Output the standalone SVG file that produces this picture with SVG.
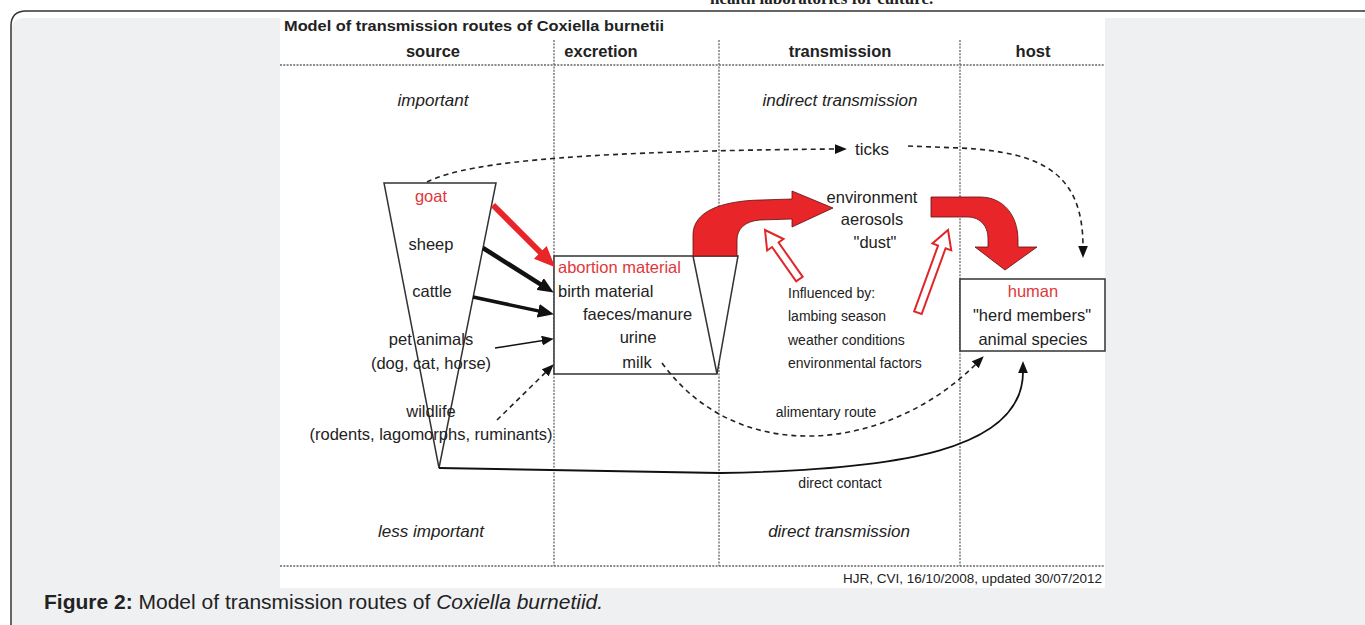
<svg xmlns="http://www.w3.org/2000/svg" width="1365" height="625" viewBox="0 0 1365 625">
<defs>
<style>
text{font-family:"Liberation Sans",Arial,sans-serif;fill:#222}
.t{font-size:16.5px}
.c{text-anchor:middle}
.h{font-size:16.5px;font-weight:bold;text-anchor:middle}
.it{font-size:17px;font-style:italic;text-anchor:middle}
.s{font-size:14px}
.red{fill:#e0383a}
.grid{stroke:#666;stroke-width:1.3;stroke-dasharray:2,1.3;fill:none}
.shape{fill:#fff;stroke:#333;stroke-width:1.5}
.bigred{fill:#e8262a;stroke:#5a1010;stroke-width:0.8}
.hollow{fill:#fff;stroke:#e0262a;stroke-width:2}
.dash{fill:none;stroke:#222;stroke-width:1.6;stroke-dasharray:5,4}
.solid{fill:none;stroke:#111}
</style>
<marker id="mRed" markerUnits="userSpaceOnUse" markerWidth="22" markerHeight="20" refX="1" refY="9" orient="auto" viewBox="0 0 22 18"><path d="M0,0 L21,9 L0,18 z" fill="#e8262a"/></marker>
<marker id="mBig" markerUnits="userSpaceOnUse" markerWidth="16" markerHeight="14" refX="1" refY="6.5" orient="auto" viewBox="0 0 15 13"><path d="M0,0 L15,6.5 L0,13 z" fill="#111"/></marker>
<marker id="mSm" markerUnits="userSpaceOnUse" markerWidth="12" markerHeight="10" refX="1" refY="4.5" orient="auto" viewBox="0 0 11 9"><path d="M0,0 L11,4.5 L0,9 z" fill="#111"/></marker>
</defs>
<rect x="0" y="0" width="1365" height="625" fill="#fff"/>
<path d="M11,625 L11,26 Q11,11 26,11 L1365,11" fill="none" stroke="#333" stroke-width="1.5"/>
<path d="M12,625 L12,28 Q12,18 26,18 L1365,18 L1365,625 Z" fill="#eff0f2"/>
<text x="710" y="4" font-family="Liberation Serif" font-size="17" font-weight="bold" style="font-family:'Liberation Serif',serif">health laboratories for culture.</text>
<rect x="280" y="17" width="825" height="571" fill="#fff"/>

<g id="frame">
<text x="284" y="31" font-size="15" font-weight="bold" textLength="380" lengthAdjust="spacingAndGlyphs">Model of transmission routes of Coxiella burnetii</text>
<text class="h" x="433" y="57">source</text>
<text class="h" x="601" y="57">excretion</text>
<text class="h" x="840" y="57">transmission</text>
<text class="h" x="1033" y="57">host</text>
<line class="grid" x1="280" y1="65" x2="1105" y2="65"/>
<line class="grid" x1="280" y1="566" x2="1105" y2="566"/>
<line class="grid" x1="554" y1="40" x2="554" y2="566"/>
<line class="grid" x1="719" y1="40" x2="719" y2="566"/>
<line class="grid" x1="960" y1="40" x2="960" y2="566"/>
<text class="it" x="433" y="106">important</text>
<text class="it" x="840" y="106">indirect transmission</text>
<text class="it" x="431" y="537">less important</text>
<text class="it" x="839" y="537">direct transmission</text>
<text x="1102" y="583" font-size="13.5" text-anchor="end">HJR, CVI, 16/10/2008, updated 30/07/2012</text>
</g>

<g id="source">
<polygon class="shape" points="384,183 496,183 439,468"/>
<text class="t c red" x="431" y="202">goat</text>
<text class="t c" x="431" y="250">sheep</text>
<text class="t c" x="432" y="297">cattle</text>
<text class="t c" x="431" y="345">pet animals</text>
<text class="t c" x="431" y="369">(dog, cat, horse)</text>
<text class="t c" x="431" y="417">wildlife</text>
<text class="t c" x="431" y="440">(rodents, lagomorphs, ruminants)</text>
</g>

<g id="excretion">
<path class="shape" d="M554,256 L738,256 L717,374 L554,374 Z"/>
<line x1="693" y1="256" x2="717" y2="374" stroke="#333" stroke-width="1.5"/>
<text class="t red" x="558" y="273">abortion material</text>
<text class="t" x="558" y="297">birth material</text>
<text class="t" x="583" y="320">faeces/manure</text>
<text class="t c" x="638" y="343">urine</text>
<text class="t c" x="637" y="368">milk</text>
</g>

<g id="environment">
<text class="t c" x="872" y="203">environment</text>
<text class="t c" x="872" y="225">aerosols</text>
<text class="t c" x="875" y="248">"dust"</text>
</g>

<g id="influences">
<text class="s" x="788" y="298">Influenced by:</text>
<text class="s" x="788" y="321">lambing season</text>
<text class="s" x="788" y="345">weather conditions</text>
<text class="s" x="788" y="368">environmental factors</text>
</g>

<g id="ticks">
<text x="855" y="155" font-size="17">ticks</text>
</g>

<g id="host">
<rect class="shape" x="960" y="279" width="145" height="72"/>
<text class="t c red" x="1033" y="297">human</text>
<text class="t c" x="1032" y="321">"herd members"</text>
<text class="t c" x="1033" y="345">animal species</text>
</g>

<g id="connectors">
<line x1="493" y1="205" x2="541" y2="253" stroke="#e8262a" stroke-width="6" marker-end="url(#mRed)"/>
<line x1="483" y1="248" x2="541" y2="284.6" stroke="#111" stroke-width="4.5" marker-end="url(#mBig)"/>
<line x1="473" y1="297" x2="539.3" y2="311.1" stroke="#111" stroke-width="3.5" marker-end="url(#mBig)"/>
<line x1="495" y1="348" x2="543" y2="340.5" stroke="#111" stroke-width="1.5" marker-end="url(#mSm)"/>
<line class="dash" x1="497" y1="420" x2="546" y2="372" marker-end="url(#mSm)"/>
<path class="dash" d="M427,182 C470,160 600,151 836,149" marker-end="url(#mSm)"/>
<path class="dash" d="M908,146 L960,148 C1045,152 1083,175 1083,247" marker-end="url(#mSm)"/>
<path class="dash" d="M662,363 C740,470 890,450 976,364" marker-end="url(#mSm)"/>
<path class="solid" stroke-width="1.8" d="M439,468 L720,473 C900,470 1023,450 1023,372" marker-end="url(#mSm)"/>
<path class="bigred" d="M693,256 L693,235 C693,212 720,201 760,200 L792,199 L792,191 L833,208 L792,227 L792,219 L760,220 C745,221 737,229 737,240 L737,256 Z"/>
<path class="bigred" d="M931,197 L980,197 C1003,197 1018,215 1018,240 L1018,247 L1037,247 L1005,270 L975,247 L988,247 L988,238 C988,226 980,217 968,217 L931,217 Z"/>
<polygon class="hollow" transform="translate(765,230) rotate(-125)" points="0,0 -18,-10 -18,-4 -60,-4 -60,4 -18,4 -18,10"/>
<polygon class="hollow" transform="translate(948,230) rotate(-70)" points="0,0 -18,-10 -18,-4 -88,-4 -88,4 -18,4 -18,10"/>
<text class="s c" x="826" y="417">alimentary route</text>
<text class="s c" x="840" y="488" font-size="14.5">direct contact</text>
</g>

<text x="44" y="609" font-size="21"><tspan font-weight="bold">Figure 2:</tspan> Model of transmission routes of <tspan font-style="italic">Coxiella burnetiid.</tspan></text>
</svg>
